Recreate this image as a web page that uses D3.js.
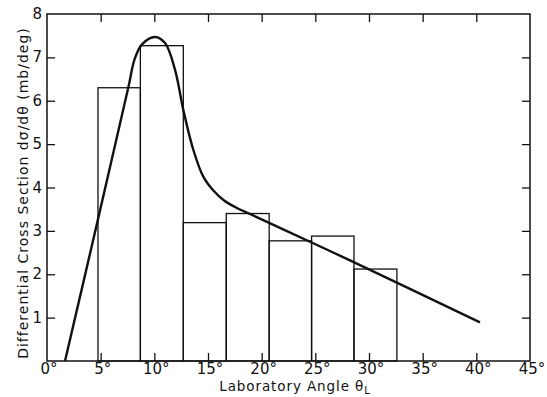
<!DOCTYPE html>
<html><head><meta charset="utf-8">
<script src="https://cdn.jsdelivr.net/npm/d3@7"></script>
<style>body{margin:0;background:#fff}svg{display:block}text{font-family:"DejaVu Sans",sans-serif;fill:#111}</style>
</head><body>
<script>
const binEdges = [4.75, 8.7, 12.7, 16.7, 20.7, 24.65, 28.6, 32.6];
const binValues = [6.3, 7.27, 3.19, 3.4, 2.77, 2.88, 2.12];
const curveAngles = [1.68, 4.78, 7.58, 8.15, 8.85, 10.06, 11.0, 11.93, 12.7, 13.63, 14.56, 15.5, 16.5, 17.6, 18.9, 24.5, 28.23, 40.34];
const curveValues = [0, 3.3, 6.31, 6.95, 7.3, 7.47, 7.33, 6.71, 5.79, 4.87, 4.25, 3.93, 3.70, 3.54, 3.39, 2.75, 2.32, 0.89];
const xTicks = [0, 5, 10, 15, 20, 25, 30, 35, 40, 45];
const yTicks = [1, 2, 3, 4, 5, 6, 7, 8];
const xTitle = "Laboratory Angle θ";
const xTitleSub = "L";
const yTitle = "Differential Cross Section  dσ/dθ  (mb/deg)";

const W = 547, H = 397;
const svg = d3.select("body").append("svg").attr("width", W).attr("height", H);
const x = d3.scaleLinear().domain([0, 45]).range([47, 530]);
const y = d3.scaleLinear().domain([0, 8]).range([361, 14]);
const tl = 8;

function styleTicks(g) { g.select(".domain").remove(); g.selectAll("line").attr("stroke", "#111").attr("stroke-width", 1.3); }
svg.append("g").attr("transform", `translate(0,${y(0)})`)
  .call(d3.axisTop(x).tickValues(xTicks.slice(1, -1)).tickSize(tl).tickFormat("")).call(styleTicks);
svg.append("g").attr("transform", `translate(0,${y(8)})`)
  .call(d3.axisBottom(x).tickValues(xTicks.slice(1, -1)).tickSize(tl).tickFormat("")).call(styleTicks);
svg.append("g").attr("transform", `translate(${x(0)},0)`)
  .call(d3.axisRight(y).tickValues(yTicks.slice(0, -1)).tickSize(tl).tickFormat("")).call(styleTicks);
svg.append("g").attr("transform", `translate(${x(45)},0)`)
  .call(d3.axisLeft(y).tickValues(yTicks.slice(0, -1)).tickSize(tl).tickFormat("")).call(styleTicks);

// tick labels
svg.append("g").selectAll("text").data(xTicks).join("text")
  .attr("x", d => x(d) + 2).attr("y", 374).attr("text-anchor", "middle")
  .attr("font-size", 15).text(d => d + "°");
svg.append("g").selectAll("text").data(yTicks).join("text")
  .attr("x", 42).attr("y", d => y(d) + 5).attr("text-anchor", "end")
  .attr("font-size", 15).text(d => d);

// bars
const bars = binValues.map((v, i) => ({x0: binEdges[i], x1: binEdges[i + 1], v}));
svg.append("g").selectAll("rect").data(bars).join("rect")
  .attr("x", d => x(d.x0)).attr("y", d => y(d.v))
  .attr("width", d => x(d.x1) - x(d.x0)).attr("height", d => y(0) - y(d.v))
  .attr("fill", "none").attr("stroke", "#111").attr("stroke-width", 1.3);

// curve
const pts = curveAngles.map((a, i) => [a, curveValues[i]]);
svg.append("path").datum(pts)
  .attr("d", d3.line().x(d => x(d[0])).y(d => y(d[1])).curve(d3.curveCatmullRom.alpha(0.5)))
  .attr("fill", "none").attr("stroke", "#111").attr("stroke-width", 2.4);

// frame
svg.append("rect").attr("x", x(0)).attr("y", y(8)).attr("width", x(45) - x(0)).attr("height", y(0) - y(8))
  .attr("fill", "none").attr("stroke", "#111").attr("stroke-width", 1.5);

// titles
const xt = svg.append("text").attr("x", 295).attr("y", 391).attr("text-anchor", "middle")
  .attr("font-size", 13.5).attr("letter-spacing", 0.9);
xt.append("tspan").text(xTitle);
xt.append("tspan").attr("font-size", 10).attr("dy", 3).text(xTitleSub);
svg.append("text").attr("transform", `translate(28,193) rotate(-90)`).attr("text-anchor", "middle")
  .attr("font-size", 14).attr("letter-spacing", 1.0).text(yTitle);
</script>
</body></html>
